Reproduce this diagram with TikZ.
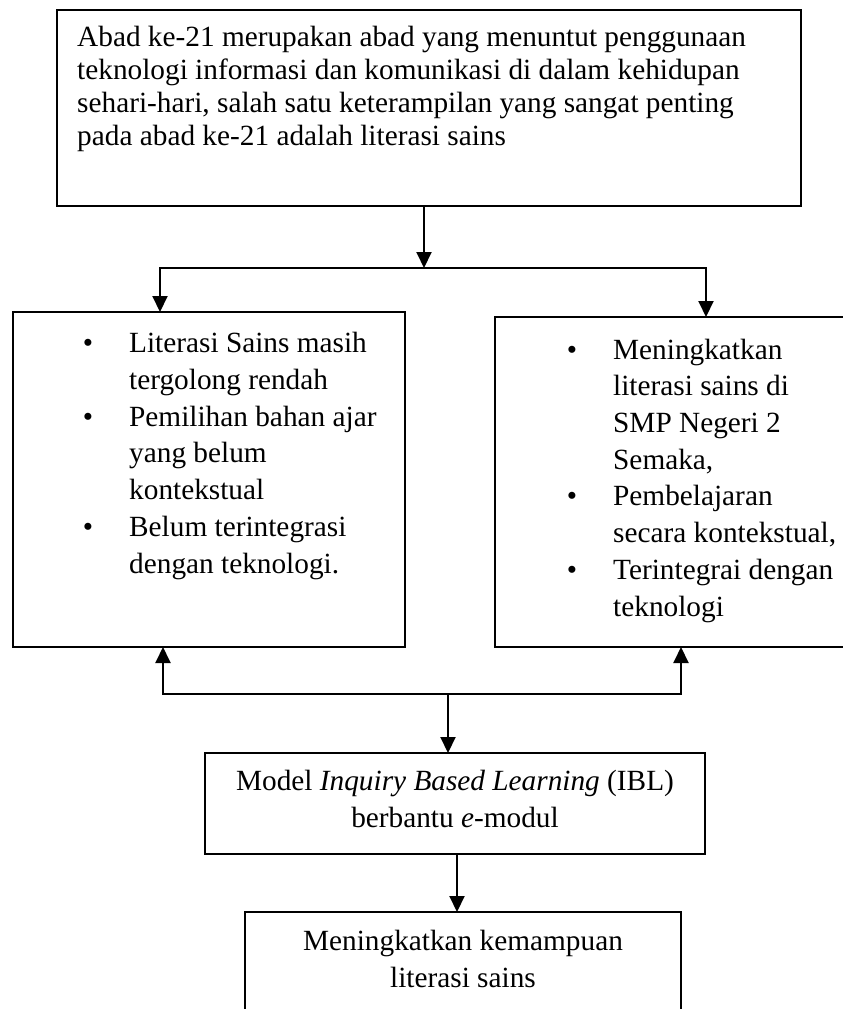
\documentclass[tikz,border=0pt]{standalone}
\usepackage{fontspec}
\setmainfont{Liberation Serif}
\usetikzlibrary{arrows.meta}
\begin{document}
\begin{tikzpicture}[x=1pt,y=-1pt,
  box/.style={draw, line width=1.2pt, inner sep=0pt, outer sep=0pt, anchor=north west},
  txt/.style={inner sep=0pt, anchor=base west, align=left, font=\fontsize{29.3}{33}\selectfont},
  listtxt/.style={inner sep=0pt, anchor=base west, align=left, font=\fontsize{29.3}{36.7}\selectfont},
  ctxt/.style={inner sep=0pt, anchor=base, align=center, font=\fontsize{29.3}{37}\selectfont},
  conn/.style={line width=2pt, line cap=rect},
  arr/.style={line width=2pt, -{Triangle[width=15pt,length=16pt]}}
]
\clip (0,0) rectangle (843,1009);
\fill[white] (0,0) rectangle (843,1009);

% boxes
\node[box, minimum width=744pt, minimum height=196pt] (top) at (57,10) {};
\node[box, minimum width=392pt, minimum height=335pt] (left) at (13,312) {};
\node[box, minimum width=370pt, minimum height=330pt] (right) at (495,317) {};
\node[box, minimum width=500pt, minimum height=101pt] (mid) at (205,753) {};
\node[box, minimum width=436pt, minimum height=130pt] (bot) at (245,912) {};

% texts (anchor = baseline of last line)
\node[txt] (toptext) at (77,145) {Abad ke-21 merupakan abad yang menuntut penggunaan\\
teknologi informasi dan komunikasi di dalam kehidupan\\
sehari-hari, salah satu keterampilan yang sangat penting\\
pada abad ke-21 adalah literasi sains};

\node[listtxt] (lefttext) at (129,573) {\llap{\textbullet\hspace*{36pt}}Literasi Sains masih\\
tergolong rendah\\
\llap{\textbullet\hspace*{36pt}}Pemilihan bahan ajar\\
yang belum\\
kontekstual\\
\llap{\textbullet\hspace*{36pt}}Belum terintegrasi\\
dengan teknologi.};

\node[listtxt] (righttext) at (613,616) {\llap{\textbullet\hspace*{36pt}}Meningkatkan\\
literasi sains di\\
SMP Negeri 2\\
Semaka,\\
\llap{\textbullet\hspace*{36pt}}Pembelajaran\\
secara kontekstual,\\
\llap{\textbullet\hspace*{36pt}}Terintegrai dengan\\
teknologi};

\node[ctxt] (midtext) at (455,827) {Model \textit{Inquiry Based Learning} (IBL)\\
berbantu \textit{e}-modul};

\node[ctxt] (bottext) at (463,987) {Meningkatkan kemampuan\\
literasi sains};

% connectors
\coordinate (j1) at (424,268);
\coordinate (jL) at (160,268);
\coordinate (jR) at (706,268);
\draw[arr] (top.south -| j1) -- (j1);
\draw[conn] (jL) -- (jR);
\draw[arr] (jL) -- (jL |- left.north);
\draw[arr] (jR) -- (jR |- right.north);

\coordinate (kL) at (163,694);
\coordinate (kR) at (681,694);
\coordinate (k1) at (448,694);
\draw[conn] (kL) -- (kR);
\draw[arr] (kL) -- (kL |- left.south);
\draw[arr] (kR) -- (kR |- right.south);
\draw[arr] (k1) -- (k1 |- mid.north);

\coordinate (m1) at (457,860);
\draw[arr] (mid.south -| m1) -- (bot.north -| m1);
\end{tikzpicture}
\end{document}
